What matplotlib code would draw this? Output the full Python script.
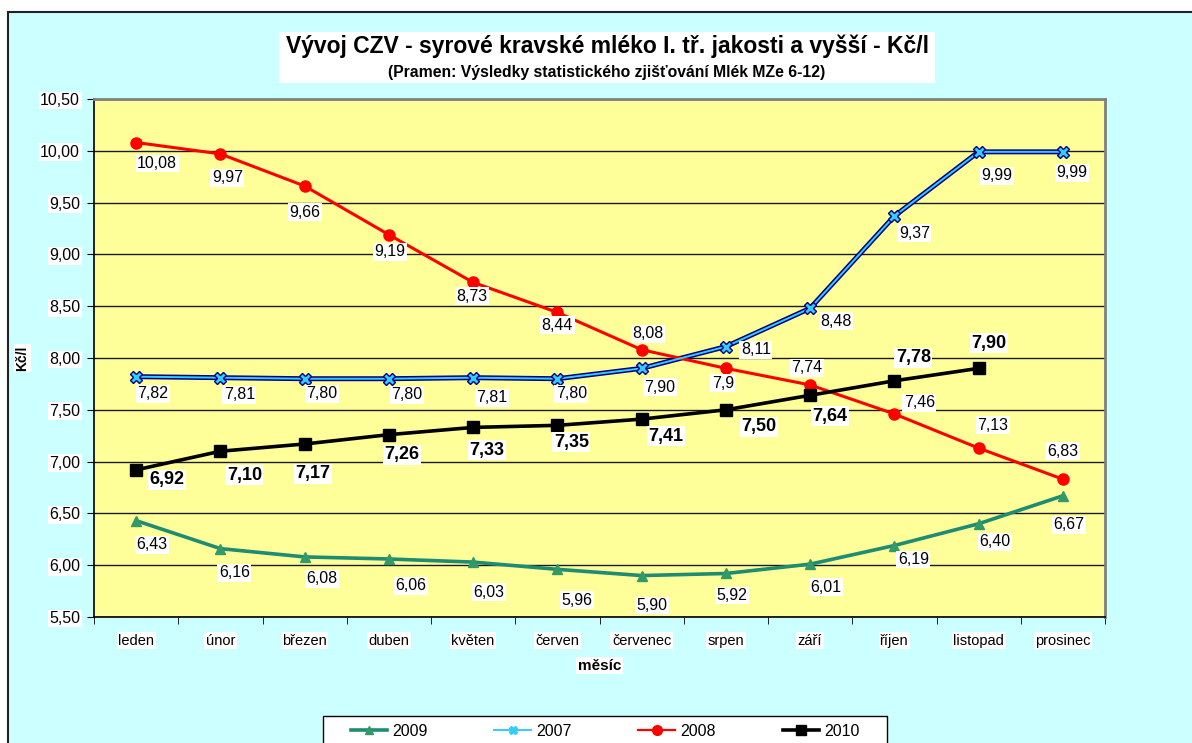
import matplotlib
matplotlib.use("Agg")
import matplotlib.pyplot as plt
from matplotlib.patches import Rectangle
import numpy as np

plt.rcParams['font.family'] = ['Liberation Sans', 'DejaVu Sans']

months = ['leden', 'únor', 'březen', 'duben', 'květen', 'červen',
          'červenec', 'srpen', 'září', 'říjen', 'listopad', 'prosinec']
v2009 = [6.43, 6.16, 6.08, 6.06, 6.03, 5.96, 5.90, 5.92, 6.01, 6.19, 6.40, 6.67]
v2007 = [7.82, 7.81, 7.80, 7.80, 7.81, 7.80, 7.90, 8.11, 8.48, 9.37, 9.99, 9.99]
v2008 = [10.08, 9.97, 9.66, 9.19, 8.73, 8.44, 8.08, 7.9, 7.74, 7.46, 7.13, 6.83]
v2010 = [6.92, 7.10, 7.17, 7.26, 7.33, 7.35, 7.41, 7.50, 7.64, 7.78, 7.90]

# label offsets in pixels (dx right, dy down)
off2009 = [(16, 24), (14, 24), (17, 22), (22, 27), (16, 30), (20, 31),
           (10, 30), (6, 22), (16, 23), (19, 14), (16, 18), (6, 29)]
off2007 = [(17, 17), (19, 17), (17, 15), (18, 16), (19, 20), (14, 15),
           (18, 19), (30, 3), (26, 13), (20, 17), (18, 24), (9, 21)]
off2008 = [(21, 21), (7, 24), (0, 26), (1, 17), (-1, 14), (0, 13),
           (6, -16), (-3, 15), (-3, -17), (25, -11), (14, -23), (0, -28)]
off2010 = [(31, 10), (24, 24), (8, 30), (13, 20), (14, 23), (14, 17),
           (24, 17), (33, 17), (20, 21), (19, -23), (10, -25)]

W, H = 1192, 743
fig = plt.figure(figsize=(W / 100, H / 100), dpi=100)
fig.patch.set_facecolor('white')

# outer chart area
fig.patches.append(Rectangle((8 / W, -0.1), 1.2, 1 - 12 / H + 0.1, transform=fig.transFigure,
                             facecolor='#CCFFFF', edgecolor='#222222', linewidth=1.5, zorder=-3))
# title box
fig.patches.append(Rectangle((279 / W, 1 - 83 / H), (935 - 279) / W, 51 / H, transform=fig.transFigure,
                             facecolor='white', edgecolor='none', zorder=-2))
fig.text(607 / W, 1 - 46 / H, 'Vývoj CZV - syrové kravské mléko I. tř. jakosti a vyšší - Kč/l',
         ha='center', va='center', fontsize=16.5, fontweight='bold')
fig.text(607 / W, 1 - 72 / H, '(Pramen: Výsledky statistického zjišťování Mlék MZe 6-12)',
         ha='center', va='center', fontsize=11.3, fontweight='bold')
# legend box
fig.patches.append(Rectangle((323 / W, -0.1), (887 - 323) / W, 1 - 716 / H + 0.1,
                             transform=fig.transFigure, facecolor='white',
                             edgecolor='black', linewidth=1, zorder=-1))

ax = fig.add_axes([94 / W, 1 - 617 / H, (1105 - 94) / W, (617 - 99) / H])
ax.set_facecolor('#FFFF99')
ax.set_xlim(-0.5, 11.5)
ax.set_ylim(5.5, 10.5)
yt = np.arange(5.5, 10.51, 0.5)
ax.set_yticks(yt)
ax.set_yticklabels([f'{t:.2f}'.replace('.', ',') for t in yt])
ax.yaxis.grid(True, color='#1a1a1a', linewidth=1)
ax.set_axisbelow(True)
ax.set_xticks(range(12))
ax.set_xticklabels(months)
ax.set_xticks(np.arange(-0.5, 12, 1), minor=True)
ax.tick_params(axis='x', which='major', length=0, pad=12, labelsize=10.5)
ax.tick_params(axis='x', which='minor', length=5, color='black')
ax.tick_params(axis='y', length=5, pad=5, labelsize=11.5)
for sp in ['top', 'right']:
    ax.spines[sp].set_color('#808080')
    ax.spines[sp].set_linewidth(2)
for sp in ['left', 'bottom']:
    ax.spines[sp].set_color('black')
    ax.spines[sp].set_linewidth(1.2)
for lbl in ax.get_xticklabels() + ax.get_yticklabels():
    lbl.set_bbox(dict(facecolor='white', edgecolor='none', pad=1))

ax.set_xlabel('měsíc', fontsize=11, fontweight='bold', labelpad=8,
              bbox=dict(facecolor='white', edgecolor='none', pad=1))
ax.set_ylabel('Kč/l', fontsize=10, fontweight='bold', labelpad=8,
              bbox=dict(facecolor='white', edgecolor='none', pad=1))

x = np.arange(12)
l09, = ax.plot(x, v2009, color='#1E8C72', linewidth=2.6, marker='^', markersize=7,
               markerfacecolor='#339966', markeredgecolor='#339966', label='2009', zorder=3)
ax.plot(x, v2007, color='#000080', linewidth=3.6, zorder=3)
l07, = ax.plot(x, v2007, color='#33CCFF', linewidth=1.4, marker='X', markersize=9,
               markerfacecolor='#33CCFF', markeredgecolor='#000080', markeredgewidth=1,
               label='2007', zorder=4)
l08, = ax.plot(x, v2008, color='#FF0000', linewidth=2.2, marker='o', markersize=8,
               label='2008', zorder=3)
l10, = ax.plot(x[:len(v2010)], v2010, color='black', linewidth=2.6, marker='s', markersize=8,
               label='2010', zorder=3)


def put_labels(vals, offs, fmt, size, weight):
    for i, (v, (dx, dy)) in enumerate(zip(vals, offs)):
        ax.annotate(fmt(v), (i, v), xytext=(dx * 0.72, -dy * 0.72), textcoords='offset points',
                    ha='center', va='center', fontsize=size, fontweight=weight, zorder=6,
                    bbox=dict(facecolor='white', edgecolor='none', pad=1))


two = lambda v: f'{v:.2f}'.replace('.', ',')
gen = lambda v: f'{v:g}'.replace('.', ',')
put_labels(v2009, off2009, two, 11.5, 'normal')
put_labels(v2007, off2007, two, 11.5, 'normal')
put_labels(v2008, off2008, gen, 11.5, 'normal')
put_labels(v2010, off2010, two, 13, 'bold')

# legend
h09 = ax.plot([], [], color='#1E8C72', linewidth=2.6, marker='^', markersize=6,
              markerfacecolor='#339966', markeredgecolor='#339966')[0]
h07 = ax.plot([], [], color='#33CCFF', linewidth=1.4, marker='X', markersize=6,
              markerfacecolor='#33CCFF', markeredgecolor='#33CCFF')[0]
h08 = ax.plot([], [], color='#FF0000', linewidth=1.6, marker='o', markersize=7)[0]
h10 = ax.plot([], [], color='black', linewidth=2.6, marker='s', markersize=7)[0]
leg = fig.legend([h09, h07, h08, h10], ['2009', '2007', '2008', '2010'],
                 loc='center', bbox_to_anchor=(605 / W, 1 - 731 / H), ncol=4,
                 fontsize=11.5, frameon=False,
                 handlelength=2.3, columnspacing=4.2, handletextpad=0.3)

fig.savefig('out.png', dpi=100)
